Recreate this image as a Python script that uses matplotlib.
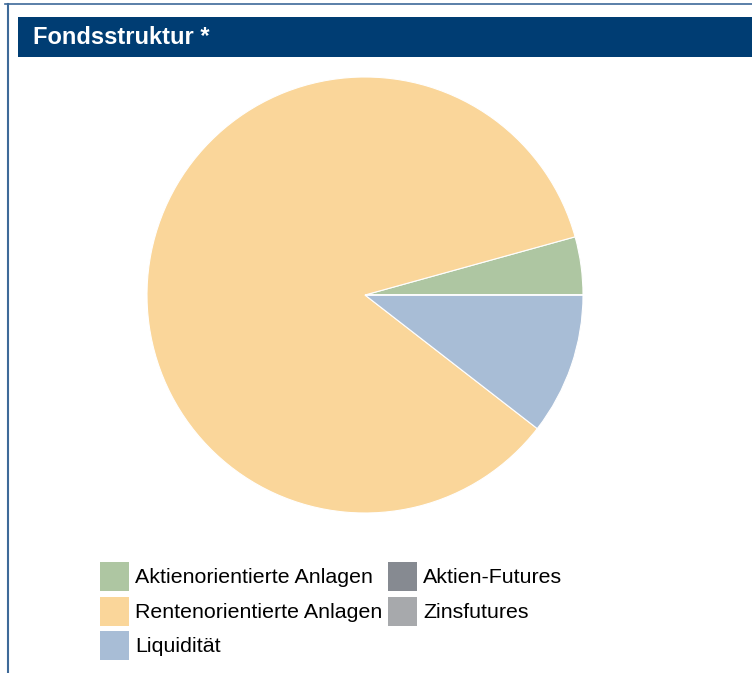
import matplotlib
matplotlib.use("Agg")
import matplotlib.pyplot as plt
from matplotlib.patches import Rectangle
from matplotlib.lines import Line2D

categories = ["Aktienorientierte Anlagen", "Rentenorientierte Anlagen", "Liquidität",
              "Aktien-Futures", "Zinsfutures"]
values = [4.3, 85.2, 10.5, 0.0, 0.0]
colors = ["#AEC6A2", "#FAD69A", "#A8BDD6", "#868A91", "#A7A9AC"]
title = "Fondsstruktur *"

W, H = 752, 673
fig = plt.figure(figsize=(W / 100, H / 100), dpi=100)
plt.rcParams["font.family"] = ["Liberation Sans", "DejaVu Sans"]

def px(x, y, w, h):
    return [x / W, 1 - (y + h) / H, w / W, h / H]

# frame lines
fig.add_artist(Line2D([5 / W, 1], [1 - 3.5 / H, 1 - 3.5 / H], color="#3E6A99", lw=1.2))
fig.add_artist(Line2D([8 / W, 8 / W], [0, 1 - 3.5 / H], color="#3E6A99", lw=1.5))

# header bar
fig.add_artist(Rectangle((18 / W, 1 - 57 / H), 1 - 18 / W, 40 / H,
                         transform=fig.transFigure, color="#003D73", lw=0))
fig.text(33 / W, 1 - 38 / H, title, color="white", fontsize=17, fontweight="bold",
         va="center", ha="left")

# pie
r = 218
cx, cy = 365, 295
ax = fig.add_axes(px(cx - r, cy - r, 2 * r, 2 * r))
ax.pie(values, colors=colors, startangle=0, counterclock=True,
       wedgeprops=dict(edgecolor="white", linewidth=0.8))
ax.set_xlim(-1, 1)
ax.set_ylim(-1, 1)
ax.set_aspect("equal")
ax.axis("off")

# legend (two columns: first three entries left, rest right)
col_x = [100, 388]
top_y = 562
row_h = 34.5
sq = 29
for i, (cat, col) in enumerate(zip(categories, colors)):
    c = 0 if i < 3 else 1
    rr = i if i < 3 else i - 3
    x = col_x[c]
    y = top_y + rr * row_h
    fig.add_artist(Rectangle((x / W, 1 - (y + sq) / H), sq / W, sq / H,
                             transform=fig.transFigure, facecolor=col, edgecolor="none"))
    fig.text((x + 35) / W, 1 - (y + sq / 2 + 1) / H, cat, fontsize=15.4,
             va="center", ha="left", color="black")

fig.savefig("out.png", dpi=100, facecolor="white")
